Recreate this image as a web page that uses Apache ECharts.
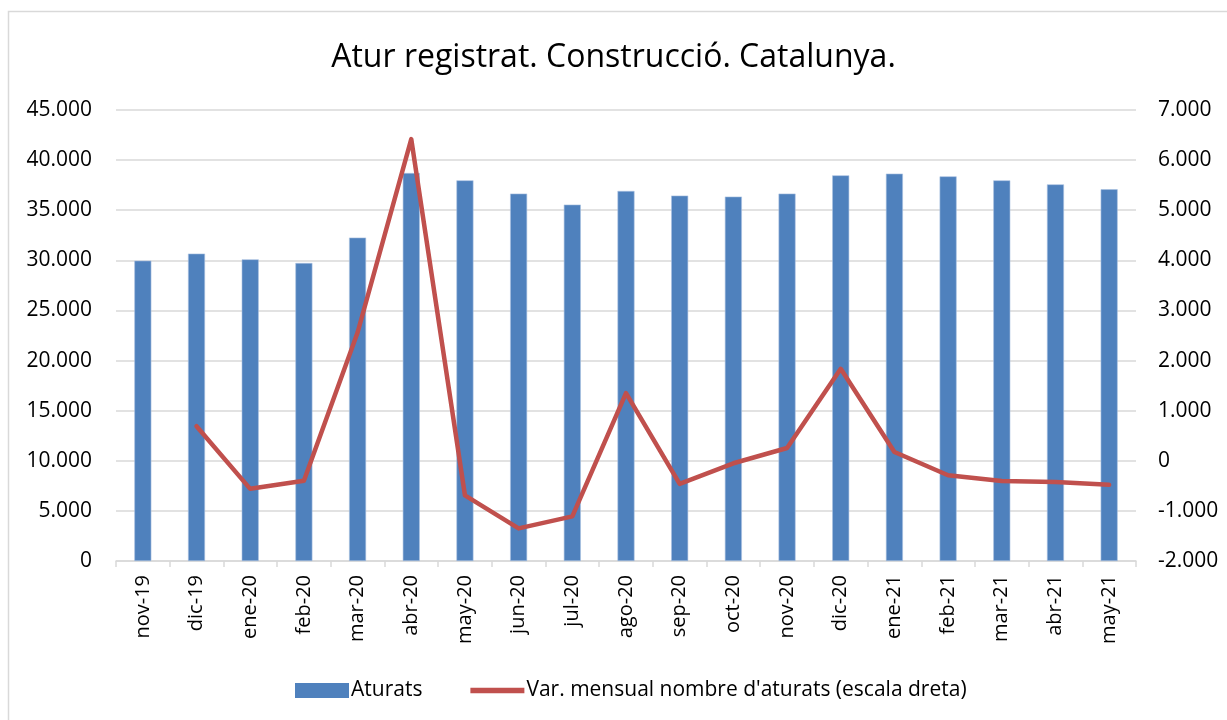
<!DOCTYPE html>
<html>
<head>
<meta charset="utf-8">
<script src="https://cdn.jsdelivr.net/npm/echarts@6/dist/echarts.min.js"></script>
<style>
  html, body { margin: 0; padding: 0; background: #fff; }
  #chart { width: 1227px; height: 720px; }
</style>
</head>
<body>
<div id="chart"></div>
<script>
var months = ['nov-19', 'dic-19', 'ene-20', 'feb-20', 'mar-20', 'abr-20', 'may-20', 'jun-20', 'jul-20', 'ago-20',
  'sep-20', 'oct-20', 'nov-20', 'dic-20', 'ene-21', 'feb-21', 'mar-21', 'abr-21', 'may-21'];
var aturats = [29970, 30670, 30100, 29730, 32270, 38710, 37980, 36660, 35560, 36920,
  36460, 36360, 36660, 38480, 38650, 38380, 37980, 37580, 37090];
var variacio = [null, 690, -560, -400, 2560, 6420, -690, -1350, -1110, 1350,
  -460, -50, 255, 1835, 175, -290, -405, -425, -480];

var font = "'Open Sans', sans-serif";
function fmt(v) {
  var s = Math.abs(v).toString().replace(/\B(?=(\d{3})+(?!\d))/g, '.');
  return (v < 0 ? '-' : '') + s;
}

var chart = echarts.init(document.getElementById('chart'));
var option = {
  animation: false,
  backgroundColor: '#fff',
  textStyle: { fontFamily: font },
  graphic: [{
    type: 'rect',
    shape: { x: 8.5, y: 11.5, width: 1240, height: 740 },
    style: { fill: 'none', stroke: '#d9d9d9', lineWidth: 1.5 },
    silent: true
  }],
  title: {
    text: 'Atur registrat. Construcció. Catalunya.',
    left: 'center',
    top: 37,
    textStyle: { fontFamily: font, fontSize: 32, fontWeight: 'normal', color: '#000' }
  },
  legend: {
    bottom: 14,
    left: 290,
    itemGap: 48,
    itemWidth: 54,
    itemHeight: 15,
    textStyle: { fontFamily: font, fontSize: 21, color: '#000', padding: [0, 0, 0, -3] },
    data: [
      { name: 'Aturats', icon: 'rect', itemStyle: { borderWidth: 0 } },
      { name: "Var. mensual nombre d'aturats (escala dreta)", icon: 'path://M0,0 L100,0 L100,10 L0,10 Z' }
    ]
  },
  grid: { left: 116, right: 91, top: 110, bottom: 159, containLabel: false },
  xAxis: {
    type: 'category',
    data: months,
    axisLine: { lineStyle: { color: '#d9d9d9', width: 1.5 } },
    axisTick: { show: true, length: 6, lineStyle: { color: '#d9d9d9', width: 1.5 } },
    axisLabel: { rotate: 90, fontSize: 20, color: '#000', margin: 14, fontFamily: font }
  },
  yAxis: [{
    type: 'value',
    min: 0, max: 45000, interval: 5000,
    axisLine: { show: false },
    axisTick: { show: false },
    splitLine: { lineStyle: { color: '#d9d9d9', width: 1.5 } },
    axisLabel: { fontSize: 21, color: '#000', margin: 24, formatter: fmt, fontFamily: font }
  }, {
    type: 'value',
    min: -2000, max: 7000, interval: 1000,
    axisLine: { show: false },
    axisTick: { show: false },
    splitLine: { show: false },
    axisLabel: { fontSize: 21, color: '#000', margin: 22, formatter: fmt, fontFamily: font }
  }],
  series: [{
    name: 'Aturats',
    type: 'bar',
    data: aturats,
    barWidth: 17,
    itemStyle: { color: '#4f81bd', borderColor: '#a9c1e0', borderWidth: 0.6 }
  }, {
    name: "Var. mensual nombre d'aturats (escala dreta)",
    type: 'line',
    yAxisIndex: 1,
    data: variacio,
    symbol: 'none',
    lineStyle: { color: '#c0504d', width: 4.5, cap: 'round', join: 'round' },
    itemStyle: { color: '#c0504d' }
  }]
};
chart.setOption(option);
</script>
</body>
</html>
